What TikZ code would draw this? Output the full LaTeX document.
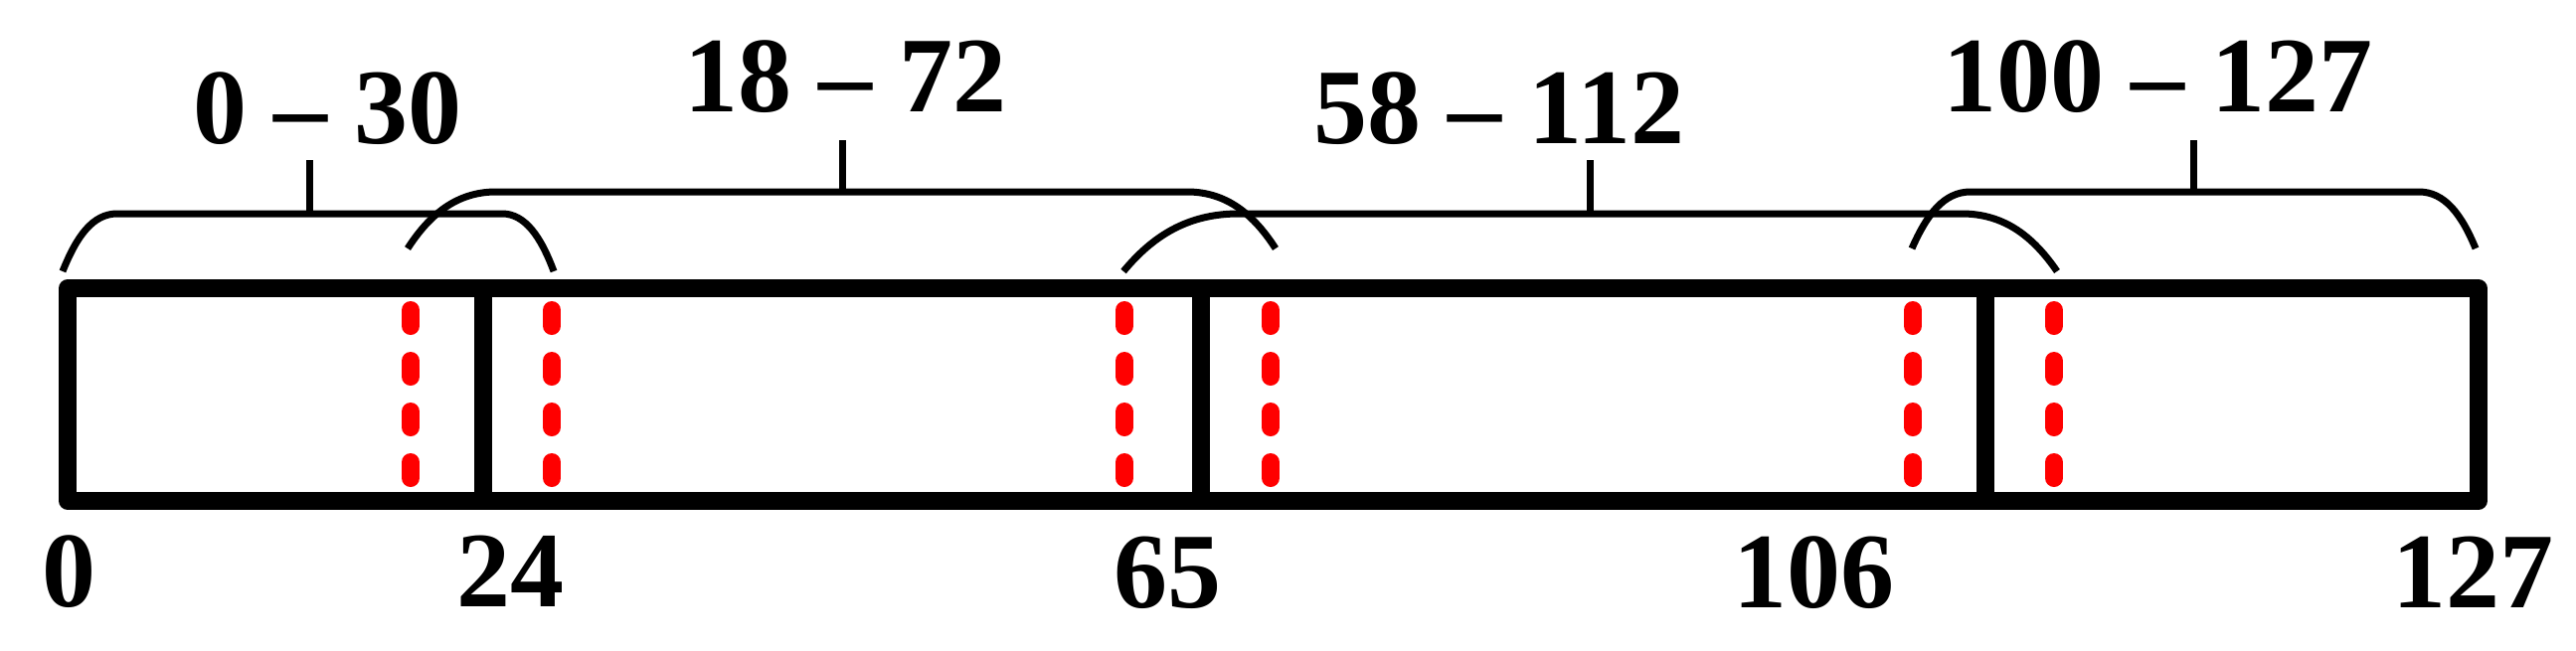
\documentclass[tikz,border=0pt]{standalone}
\usepackage{fontspec}
\setmainfont{Liberation Serif}
\usetikzlibrary{
  calc,
  positioning,
}
\tikzstyle{frame} = [
  line width=8.75pt,
  line join=round,
]
\tikzstyle{split} = [
  line width=8.75pt,
]
\tikzstyle{cut} = [
  red,
  line width=9pt,
  line cap=round,
  dash pattern=on 8pt off 17.5pt,
]
\tikzstyle{brace} = [
  line width=3.5pt,
]
\tikzstyle{label} = [
  font=\fontsize{54}{60}\selectfont\bfseries,
  inner sep=0pt,
  anchor=base,
]

\begin{document}
\begin{tikzpicture}[x=0.5pt,y=-0.5pt]
        \useasboundingbox (0,0) rectangle (2591,654);

        % block of 128 entries
        \coordinate (nw) at (68,290);
        \coordinate (se) at (2493,504);
        \draw[frame] (nw) rectangle (se);
        \foreach \x in {486,1208,1997}
          \draw[split] (\x,290) -- (\x,504);

        % overlap borders
        \foreach \x in {413,555,1131,1278,1924,2066}
          \draw[cut] (\x,312) -- (\x,482);

        % ranges
        \draw[brace] (63,273) .. controls (77,238) and (93,215) .. (118,215) -- (505,215)
          .. controls (528,215) and (544,238) .. (557,273);
        \draw[brace] (311,215) -- (311,161);
        \draw[brace] (410,250) .. controls (432,216) and (459,193) .. (499,193) -- (1194,193)
          .. controls (1234,193) and (1261,216) .. (1283,250);
        \draw[brace] (847,193) -- (847,141);
        \draw[brace] (1130,273) .. controls (1159,238) and (1194,215) .. (1246,215) -- (1973,215)
          .. controls (2016,215) and (2045,238) .. (2069,273);
        \draw[brace] (1599,215) -- (1599,161);
        \draw[brace] (1923,250) .. controls (1938,216) and (1955,193) .. (1982,193) -- (2433,193)
          .. controls (2459,193) and (2476,216) .. (2490,250);
        \draw[brace] (2206,193) -- (2206,141);

        \node[label] (range1) at (329,144) {0 -- 30};
        \node[label] (range2) at (850,112) {18 -- 72};
        \node[label] (range3) at (1508,144) {58 -- 112};
        \node[label] (range4) at (2170,112) {100 -- 127};

        % split points
        \node[label] (tick0)   at (69,610)   {0};
        \node[label] (tick24)  at (513,610)  {24};
        \node[label] (tick65)  at (1174,611) {65};
        \node[label] (tick106) at (1824,611) {106};
        \node[label] (tick127) at (2487,611) {127};

      \end{tikzpicture}
\end{document}
